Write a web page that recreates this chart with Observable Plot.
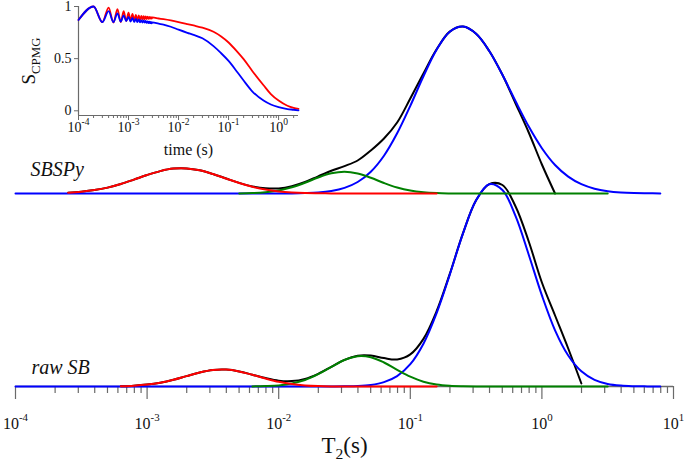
<!DOCTYPE html>
<html><head><meta charset="utf-8">
<script src="https://cdn.jsdelivr.net/npm/d3@7"></script>
<script src="https://cdn.jsdelivr.net/npm/@observablehq/plot@0.6"></script>
<style>
 html,body{margin:0;padding:0;background:#fff;}
 #wrap{position:relative;width:685px;height:468px;overflow:hidden;background:#fff;}
 #inset{position:absolute;left:0;top:0;}
 #wrap svg, #wrap svg text, #wrap svg tspan { font-family: "Liberation Serif", "Times New Roman", "DejaVu Serif", serif !important; }
</style></head><body>
<div id="wrap"><div id="main"></div><div id="inset"></div></div>
<script>
// ---------- main chart data: T2 distributions (amplitude, arbitrary units) ----------
const log10T2 = [-4.0,-3.9,-3.8,-3.7,-3.6,-3.5,-3.4,-3.3,-3.2,-3.1,-3.0,-2.9,-2.8,-2.7,-2.6,-2.5,-2.4,-2.3,-2.2,-2.1,-2.0,-1.9,-1.8,-1.7,-1.6,-1.5,-1.4,-1.3,-1.2,-1.1,-1.0,-0.9,-0.8,-0.7,-0.6,-0.5,-0.4,-0.3,-0.2,-0.1,0.0,0.1,0.2,0.3,0.4,0.5,0.6,0.7,0.8,0.9];
const N = null;
// raw SB
const rawTotal = [N,N,N,N,N,N,N,N,0.3,0.8,1.9,3.8,6.7,10.4,14.0,16.5,16.9,15.1,11.8,8.4,5.8,5.4,7.6,12.7,19.7,26.7,30.8,30.9,28.4,27.1,32.1,47.6,75.3,112.6,153.1,186.2,202.3,201.5,180,145,104,71,38,3,N,N,N,N,N,N];
const rawRed   = [N,N,N,N,N,N,N,N,0.3,0.8,1.9,3.8,6.7,10.4,14.0,16.5,16.9,15.1,11.7,8.0,4.7,2.4,1.1,0.4,0.1,0,0,0,0,0,0,0,0,N,N,N,N,N,N,N,N,N,N,N,N,N,N,N,N,N];
const rawGreen = [N,N,N,N,N,N,N,N,N,N,N,N,N,N,N,N,N,N,0.1,0.4,1.1,3.0,6.5,12.3,19.6,26.5,30.3,29.3,24.0,16.7,9.8,4.8,2.0,0.7,0.2,0,0,0,0,0,0,0,0,0,0,0,N,N,N,N];
const rawBlue  = [0,0,0,0,0,0,0,0,0,0,0,0,0,0,0,0,0,0,0,0,0,0,0,0,0,0.2,0.5,1.6,4.4,10.4,22.3,42.8,73.3,111.9,152.9,186.2,202.3,196.5,170.3,131.8,91.1,56.2,31.0,15.2,6.7,2.6,0.9,0.3,0.1,0];
// SBSPy
const spyTotal = [N,N,N,N,0.8,1.8,3.4,5.9,9.5,13.9,18.5,22.4,24.9,25.1,23.2,19.5,15.0,10.6,7.1,5.2,5.1,7.3,11.5,17.2,22.7,27.4,33,43,55,71,95,120,144.2,161.9,166.9,159.7,142.5,118.7,90,61,29,0,N,N,N,N,N,N,N,N];
const spyRed   = [N,N,N,N,0.8,1.8,3.4,5.9,9.5,13.9,18.5,22.4,24.9,25.1,23.2,19.5,15.0,10.5,6.7,3.9,2.1,1.0,0.4,0.2,0.1,0,0,0,0,0,0,0,0,N,N,N,N,N,N,N,N,N,N,N,N,N,N,N,N,N];
const spyGreen = [N,N,N,N,N,N,N,N,N,N,N,N,N,N,N,N,N,0.1,0.4,1.3,3.0,6.2,10.7,16.0,20.2,21.8,20.0,15.7,10.5,6.0,2.9,1.2,0.4,0.1,0,0,0,0,0,0,0,0,0,0,0,0,N,N,N,N];
const spyBlue  = [0,0,0,0,0,0,0,0,0,0,0,0,0,0,0,0,0,0,0,0,0,0.1,0.4,1.0,2.5,5.6,11.5,21.8,37.8,60.2,87.7,117.3,143.8,161.8,166.9,159.7,142.5,118.7,92.2,66.9,45.3,28.5,16.9,9.3,4.8,2.3,1.0,0.4,0.2,0.1];

const panelLabels = ["SBSPy", "raw SB"];
const xMajorTicks = [1e-4, 1e-3, 1e-2, 1e-1, 1, 10];
const xMajorLabels = ["10^{-4}", "10^{-3}", "10^{-2}", "10^{-1}", "10^{0}", "10^{1}"];

// ---------- inset data: CPMG decays ----------
const time_s = [0.0001,0.0002,0.0003,0.0004,0.0005,0.0006,0.0007,0.0008,0.0009,0.0010,0.0011,0.0012,0.0013,0.0014,0.0015,0.0016,0.0017,0.0018,0.0019,0.0020,0.0021,0.0022,0.0023,0.0024,0.0025,0.0026,0.0027,0.0028,0.0029,0.0030,
  0.004,0.005,0.007,0.01,0.015,0.02,0.03,0.05,0.07,0.1,0.15,0.2,0.3,0.5,0.7,1,1.5,2,2.5];
const sRed = [0.87,1.0,0.85,0.99,0.845,0.975,0.85,0.955,0.86,0.94,0.865,0.93,0.87,0.92,0.872,0.915,0.875,0.91,0.877,0.907,0.878,0.905,0.88,0.902,0.881,0.9,0.883,0.898,0.884,0.895,
  0.885,0.878,0.866,0.851,0.832,0.818,0.797,0.758,0.715,0.655,0.565,0.495,0.38,0.245,0.16,0.098,0.048,0.028,0.019];
const sBlue = [0.87,1.0,0.85,0.955,0.85,0.935,0.855,0.915,0.86,0.9,0.855,0.89,0.852,0.882,0.85,0.876,0.848,0.87,0.846,0.866,0.845,0.862,0.843,0.858,0.842,0.855,0.84,0.852,0.839,0.848,
  0.835,0.826,0.806,0.778,0.748,0.728,0.695,0.62,0.555,0.478,0.37,0.29,0.185,0.098,0.06,0.035,0.017,0.01,0.004];
const insetXTicks = [1e-4, 1e-3, 1e-2, 1e-1, 1];
const insetXLabels = ["10^{-4}", "10^{-3}", "10^{-2}", "10^{-1}", "10^{0}"];
const insetYTicks = [0, 0.5, 1];

// ---------- build ----------
const serif = "Liberation Serif, Times New Roman, DejaVu Serif, serif";
const axisGray = "#6a6a6a";
const topOffset = 193; // vertical offset of the SBSPy trace
function rows(vals, offset) {
  const out = [];
  vals.forEach((v, i) => { if (v !== null) out.push({T2: Math.pow(10, log10T2[i]), y: v + offset}); });
  return out;
}
const minor = (majors) => majors.flatMap(m => [2,3,4,5,6,7,8,9].map(k => k * m));
const lineOpts = (color) => ({x: "T2", y: "y", stroke: color, strokeWidth: 2, curve: "catmull-rom"});
const comps = [
  ["#000000", spyTotal, rawTotal],
  ["#0000ff", spyBlue, rawBlue],
  ["#008000", spyGreen, rawGreen],
  ["#ff0000", spyRed, rawRed]
];
const curveMarks = [];
for (const [color, top, bottom] of comps) {
  curveMarks.push(Plot.line(rows(top, topOffset), lineOpts(color)));
  curveMarks.push(Plot.line(rows(bottom, 0), lineOpts(color)));
}

const main = Plot.plot({
  width: 685, height: 468,
  marginLeft: 15, marginRight: 12, marginTop: 0, marginBottom: 82,
  x: {type: "log", domain: [1e-4, 10], axis: null},
  y: {domain: [0, 386], axis: null},
  style: {fontFamily: serif, background: "white", overflow: "visible"},
  marks: [
    Plot.ruleY([0], {stroke: axisGray, strokeWidth: 1.3}),
    Plot.axisX({ticks: minor(xMajorTicks.slice(0, 5)), tickSize: 7, tickFormat: () => "", stroke: axisGray, strokeWidth: 1.2, label: null}),
    Plot.axisX({ticks: xMajorTicks, tickSize: 13, tickFormat: () => "", stroke: axisGray, strokeWidth: 1.2, label: null}),
    ...curveMarks,
    Plot.text(xMajorTicks, {x: d => d, text: (d, i) => xMajorLabels[i], frameAnchor: "bottom", lineAnchor: "bottom", dy: 42, fontSize: 16, fontFamily: serif, fill: "#111"}),
    Plot.text(["T_{2}(s)"], {text: d => d, frameAnchor: "bottom", lineAnchor: "bottom", dy: 66, fontSize: 23, fontFamily: serif, fill: "#111"}),
    Plot.text([panelLabels[0]], {text: d => d, y: topOffset, frameAnchor: "left", textAnchor: "start", lineAnchor: "bottom", dx: 15, dy: -18, fontSize: 20, fontStyle: "italic", fontFamily: serif, fill: "#111"}),
    Plot.text([panelLabels[1]], {text: d => d, y: 0, frameAnchor: "left", textAnchor: "start", lineAnchor: "bottom", dx: 16, dy: -13, fontSize: 20, fontStyle: "italic", fontFamily: serif, fill: "#111"})
  ]
});

const inX = [1e-4, 2.5], inY = [-0.045, 1];
const insetRed = time_s.map((t, i) => ({t, s: sRed[i]}));
const insetBlue = time_s.map((t, i) => ({t, s: sBlue[i]}));
const inset = Plot.plot({
  width: 310, height: 162,
  marginLeft: 78, marginRight: 12, marginTop: 6, marginBottom: 47,
  x: {type: "log", domain: inX, axis: null},
  y: {domain: inY, axis: null},
  style: {fontFamily: serif, background: "transparent", overflow: "visible"},
  marks: [
    Plot.ruleX([inX[0]], {stroke: axisGray, strokeWidth: 1.2}),
    Plot.ruleY([inY[0]], {stroke: axisGray, strokeWidth: 1.2}),
    Plot.axisY({ticks: insetYTicks, tickSize: 4, anchor: "left", tickPadding: 3, fontSize: 14, tickFormat: d => String(d), stroke: axisGray, fill: "#111", label: null}),
    Plot.axisX({ticks: minor(insetXTicks.slice(0, 4)).concat([2]), tickSize: 3, tickFormat: () => "", stroke: axisGray, label: null}),
    Plot.axisX({ticks: insetXTicks, tickSize: 5, tickFormat: () => "", stroke: axisGray, label: null}),
    Plot.line(insetRed, {x: "t", y: "s", stroke: "#ff0000", strokeWidth: 1.8, curve: "monotone-x"}),
    Plot.line(insetBlue, {x: "t", y: "s", stroke: "#0000ff", strokeWidth: 1.8, curve: "monotone-x"}),
    Plot.text(insetXTicks, {x: d => d, text: (d, i) => insetXLabels[i], frameAnchor: "bottom", lineAnchor: "bottom", dy: 16, fontSize: 14, fontFamily: serif, fill: "#111"}),
    Plot.text(["time (s)"], {text: d => d, frameAnchor: "bottom", lineAnchor: "bottom", dy: 39, fontSize: 16, fontFamily: serif, fill: "#111"}),
    Plot.text(["S_{CPMG}"], {text: d => d, frameAnchor: "left", rotate: -90, lineAnchor: "bottom", textAnchor: "middle", dx: -44, fontSize: 19, fontFamily: serif, fill: "#111"})
  ]
});

// rich text: a^{b} superscript, a_{b} subscript
function richify(svg) {
  d3.select(svg).selectAll("text").each(function() {
    const t = this.textContent;
    const m = t.match(/^(.*?)([\^_])\{(.+?)\}(.*)$/);
    if (!m) return;
    const holder = this.closest("[font-size]");
    const fs = holder ? parseFloat(holder.getAttribute("font-size")) : 16;
    const small = +(fs * 0.68).toFixed(1);
    const shift = m[2] === "^" ? -0.45 * fs : 0.3 * fs;
    const sel = d3.select(this);
    sel.text(m[1]);
    sel.append("tspan").attr("dy", shift.toFixed(1)).attr("font-size", small).text(m[3]);
    if (m[4]) sel.append("tspan").attr("dy", (-shift).toFixed(1)).attr("font-size", fs).text(m[4]);
  });
}
richify(main);
richify(inset);
document.getElementById("main").appendChild(main);
document.getElementById("inset").appendChild(inset);
</script></body></html>
